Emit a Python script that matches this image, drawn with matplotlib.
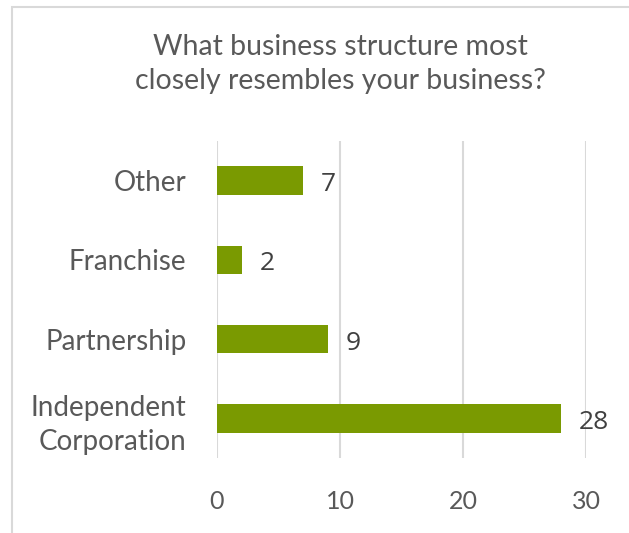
import matplotlib
matplotlib.use('Agg')
import matplotlib.pyplot as plt
from matplotlib.patches import Rectangle

categories = ['Independent\nCorporation', 'Partnership', 'Franchise', 'Other']
counts = [28, 9, 2, 7]
x_ticks = [0, 10, 20, 30]

bar_color = '#7a9a01'
text_color = '#595959'
label_color = '#404040'
grid_color = '#d9d9d9'

fig = plt.figure(figsize=(6.29, 5.33), dpi=100)
ax = fig.add_axes([217/629, 1 - 458/533, (586 - 217)/629, (458 - 141)/533])

pos = range(len(categories))
ax.barh(pos, counts, height=0.36, color=bar_color, zorder=3)
for y, v in zip(pos, counts):
    ax.text(v + 1.45, y - 0.05, str(v), va='center', ha='left',
            fontsize=19, color=label_color, family='Open Sans')

ax.set_xlim(0, 30)
ax.set_ylim(-0.5, len(categories) - 0.5)
ax.set_xticks(x_ticks)
ax.set_yticks(list(pos))
ax.set_yticklabels(categories, fontsize=20, color=text_color, family='Lato',
                   linespacing=1.4)
ax.set_xticklabels([str(t) for t in x_ticks], fontsize=18, color=text_color, family='Lato')
ax.tick_params(axis='y', length=0, pad=22)
ax.tick_params(axis='x', length=0, pad=23)
ax.grid(axis='x', color=grid_color, linewidth=1.5, zorder=0)
for s in ax.spines.values():
    s.set_visible(False)

fig.text(340/629, 1 - 64/533, 'What business structure most\nclosely resembles your business?',
         ha='center', va='center', fontsize=20.5, color=text_color, family='Lato',
         linespacing=1.4)

# outer chart frame
fig.patches.append(Rectangle((12/629, -0.1), 1.2, 1 - 7/533 + 0.1, transform=fig.transFigure,
                             fill=False, edgecolor=grid_color, linewidth=1.5))

fig.savefig('out.png', dpi=100)
